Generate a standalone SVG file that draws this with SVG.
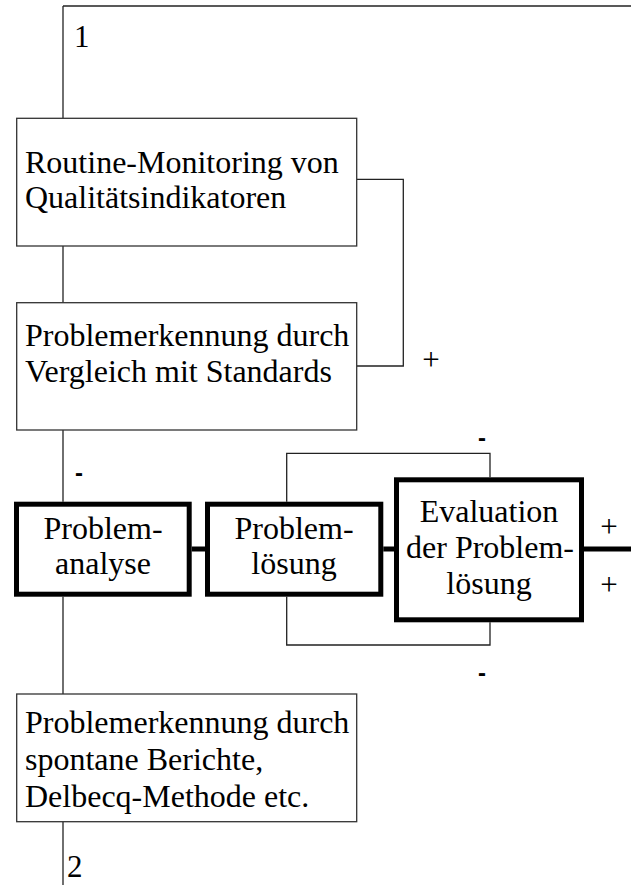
<svg xmlns="http://www.w3.org/2000/svg" width="631" height="885" viewBox="0 0 631 885">
  <style>
    .thin { fill: none; stroke: #222; stroke-width: 1.3; }
    .box { fill: #fff; stroke: #333; stroke-width: 1.3; }
    .thick { fill: #fff; stroke: #000; stroke-width: 5; }
    .bar { fill: none; stroke: #000; stroke-width: 5; }
    text { font-family: 'Liberation Serif', 'Times New Roman', serif; font-size: 32px; fill: #000; }
    .c { text-anchor: middle; }
    .num { font-size: 31px; }
    .plus { font-size: 31px; text-anchor: middle; }
    .minus { font-family: 'Liberation Sans', Arial, sans-serif; font-weight: bold; font-size: 24px; text-anchor: middle; }
  </style>

  <!-- connectors -->
  <g id="connectors">
    <path class="thin" d="M63,6 H631"/>
    <path class="thin" d="M63,6 V118.3"/>
    <path class="thin" d="M63,246 V302.7"/>
    <path class="thin" d="M63,430 V501.7"/>
    <path class="thin" d="M63,596.7 V694"/>
    <path class="thin" d="M63,821.7 V885"/>
    <path class="thin" d="M356.7,179.3 H403.3 V366 H356.7"/>
    <path class="thin" d="M286.7,501.7 V453.3 H490 V477.3"/>
    <path class="thin" d="M286.7,596.7 V645 H490 V622.3"/>
    <path class="bar" d="M191.7,549 H205"/>
    <path class="bar" d="M383.3,549 H394"/>
    <path class="bar" d="M584,549 H631"/>
  </g>

  <!-- connector labels -->
  <g id="labels">
    <text class="num" x="74" y="47">1</text>
    <text class="num" x="67" y="877">2</text>
    <text class="plus" x="431" y="369.5">+</text>
    <text class="plus" x="609" y="537">+</text>
    <text class="plus" x="609" y="595">+</text>
    <text class="minus" x="79" y="480.5">-</text>
    <text class="minus" x="482" y="445.5">-</text>
    <text class="minus" x="482" y="681">-</text>
  </g>

  <g id="routine-monitoring">
    <rect class="box" x="16.7" y="118.3" width="340" height="127.7"/>
    <text x="25" y="172.5">Routine-Monitoring von</text>
    <text x="25" y="208">Qualitätsindikatoren</text>
  </g>

  <g id="problemerkennung-standards">
    <rect class="box" x="16.7" y="302.7" width="340" height="127.3"/>
    <text x="25" y="346">Problemerkennung durch</text>
    <text x="25" y="381.7">Vergleich mit Standards</text>
  </g>

  <g id="problemanalyse">
    <rect class="thick" x="16.5" y="504.2" width="172.7" height="90"/>
    <text class="c" x="103" y="538.5">Problem-</text>
    <text class="c" x="103" y="574">analyse</text>
  </g>

  <g id="problemloesung">
    <rect class="thick" x="207.5" y="504.2" width="173.3" height="90"/>
    <text class="c" x="294" y="538.5">Problem-</text>
    <text class="c" x="294" y="574">lösung</text>
  </g>

  <g id="evaluation">
    <rect class="thick" x="396.5" y="479.8" width="185" height="140"/>
    <text class="c" x="489" y="522">Evaluation</text>
    <text class="c" x="490" y="557.5">der Problem-</text>
    <text class="c" x="489" y="593.5">lösung</text>
  </g>

  <g id="problemerkennung-berichte">
    <rect class="box" x="16.7" y="694" width="340" height="127.7"/>
    <text x="25" y="733.3">Problemerkennung durch</text>
    <text x="25" y="770">spontane Berichte,</text>
    <text x="25" y="806.7">Delbecq-Methode etc.</text>
  </g>
</svg>
